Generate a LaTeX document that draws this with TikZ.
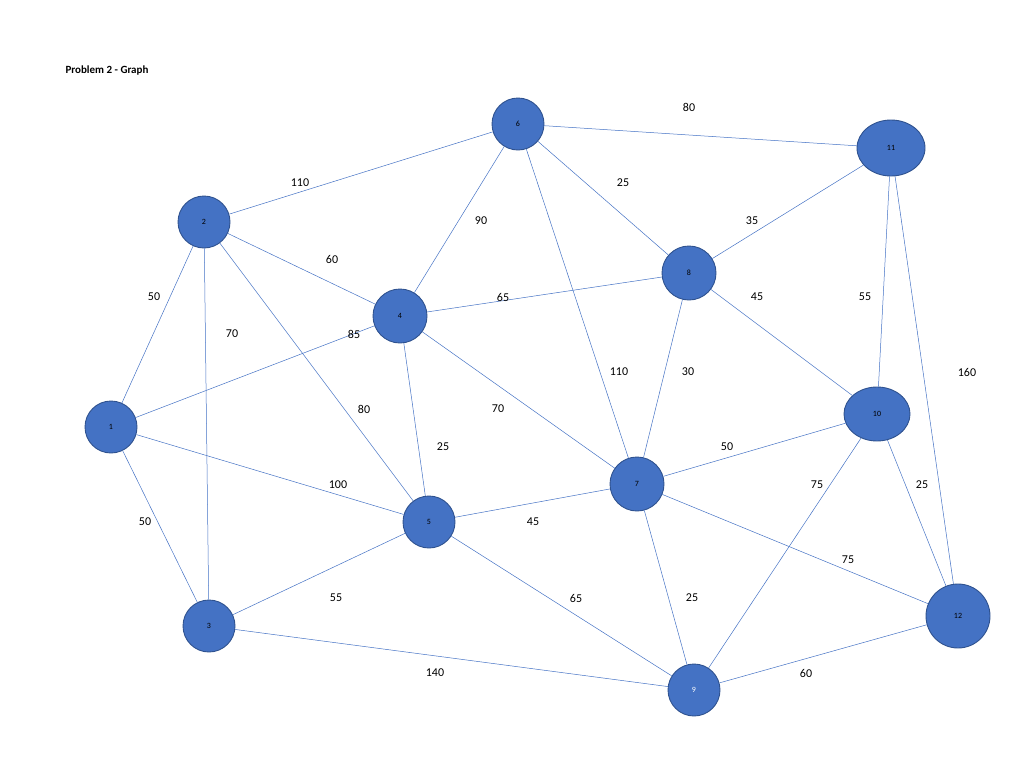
\documentclass[tikz,border=0pt]{standalone}
\usepackage{fontspec}
\setmainfont{Carlito}
\usetikzlibrary{shapes.geometric}
\definecolor{nf}{HTML}{4472C4}
\definecolor{nb}{HTML}{2F528F}
\begin{document}
\begin{tikzpicture}[x=1pt,y=-1pt,
 v/.style={circle,fill=nf,draw=nb,line width=0.9pt,minimum size=#1,inner sep=0pt,font=\footnotesize},
 e/.style={ellipse,fill=nf,draw=nb,line width=0.9pt,inner sep=0pt,font=\footnotesize},
 ed/.style={draw=nf,line width=0.5pt},
 lab/.style={font=\fontsize{12}{14}\selectfont}]
\useasboundingbox (0,0) rectangle (1024,771);
\node[anchor=west,font=\bfseries\fontsize{11}{13}\selectfont] at (62,71) {Problem 2 - Graph};
\node[v=52pt] (n1) at (111,427) {1};
\node[v=52pt] (n2) at (204,222) {2};
\node[v=52pt] (n3) at (209,626) {3};
\node[v=54pt] (n4) at (400,316) {4};
\node[v=52pt] (n5) at (429,522) {5};
\node[v=52pt] (n6) at (518,124) {6};
\node[v=54pt] (n7) at (637,484) {7};
\node[v=54pt] (n8) at (689,273) {8};
\node[v=52pt,text=white] (n9) at (694,690) {9};
\node[e,minimum width=66pt,minimum height=54pt] (n10) at (877,414) {10};
\node[e,minimum width=68pt,minimum height=56pt] (n11) at (891,148) {11};
\node[v=64pt] (n12) at (958,616) {12};
\begin{scope}[on background layer/.try]
\end{scope}
\foreach \a/\b in {1/2,1/3,1/4,1/5,2/3,2/4,2/5,2/6,3/5,3/9,4/5,4/6,4/7,4/8,5/7,5/9,6/7,6/8,6/11,7/8,7/9,7/10,7/12,8/10,8/11,9/10,9/12,10/11,10/12,11/12}
  \draw[ed] (n\a) -- (n\b);
\foreach \x/\y/\t in {300/183/110,689/107/80,623/183/25,481/221/90,752/221/35,332/259/60,154/297/50,503/297/65,757/297/45,865/297/55,232/334/70,354/334/85,619/372/110,688/372/30,967/372/160,364/409/80,498/409/70,443/447/25,727/447/50,338/485/100,817/485/75,922/485/25,145/522/50,533/522/45,848/560/75,336/598/55,576/598/65,692/598/25,435/673/140,806/673/60}
  \node[lab] at (\x,\y) {\t};
\end{tikzpicture}
\end{document}
